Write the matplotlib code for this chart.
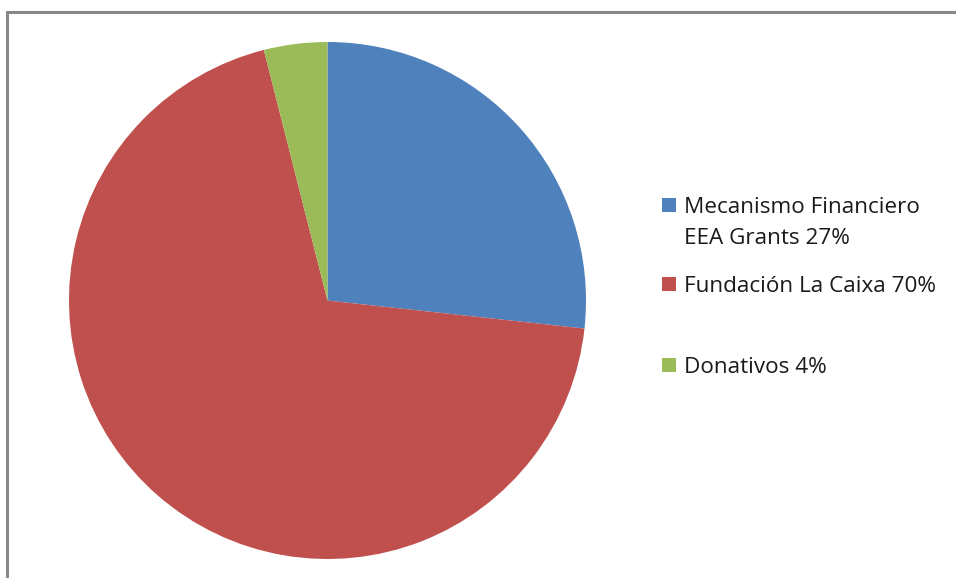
import matplotlib
matplotlib.use("Agg")
import matplotlib.pyplot as plt
from matplotlib.patches import Rectangle

labels = ["Mecanismo Financiero\nEEA Grants 27%", "Fundación La Caixa 70%", "Donativos 4%"]
values = [27, 70, 4]
colors = ["#4F81BD", "#C0504D", "#9BBB59"]

W, H = 956, 578
fig = plt.figure(figsize=(W / 100, H / 100), dpi=100)
ax = fig.add_axes([0, 0, 1, 1])

ax.pie(values, colors=colors, startangle=90, counterclock=False,
       center=(327.5, H - 300.5), radius=258.5, wedgeprops=dict(linewidth=0),
       frame=True)
ax.set_xlim(0, W)
ax.set_ylim(0, H)
ax.set_aspect("equal")
ax.axis("off")

# frame border (extends beyond right/bottom edges)
ax.plot([7.5, 7.5, W + 5], [-5, H - 12, H - 12], color="#888888", lw=2.2,
        solid_joinstyle="miter", clip_on=False)

# legend
font = ["Open Sans", "DejaVu Sans"]
first_line_y = [205, 284, 365]  # pixel from top
for lab, col, y in zip(labels, colors, first_line_y):
    ax.add_patch(Rectangle((662, H - y - 7), 14, 14, color=col, lw=0))
    lines = lab.split("\n")
    for i, line in enumerate(lines):
        ax.text(684, H - y - 30.5 * i, line, fontsize=16.2, family=font,
                color="#1a1a1a", va="center_baseline", ha="left")

fig.savefig("out.png", dpi=100, facecolor="white")
